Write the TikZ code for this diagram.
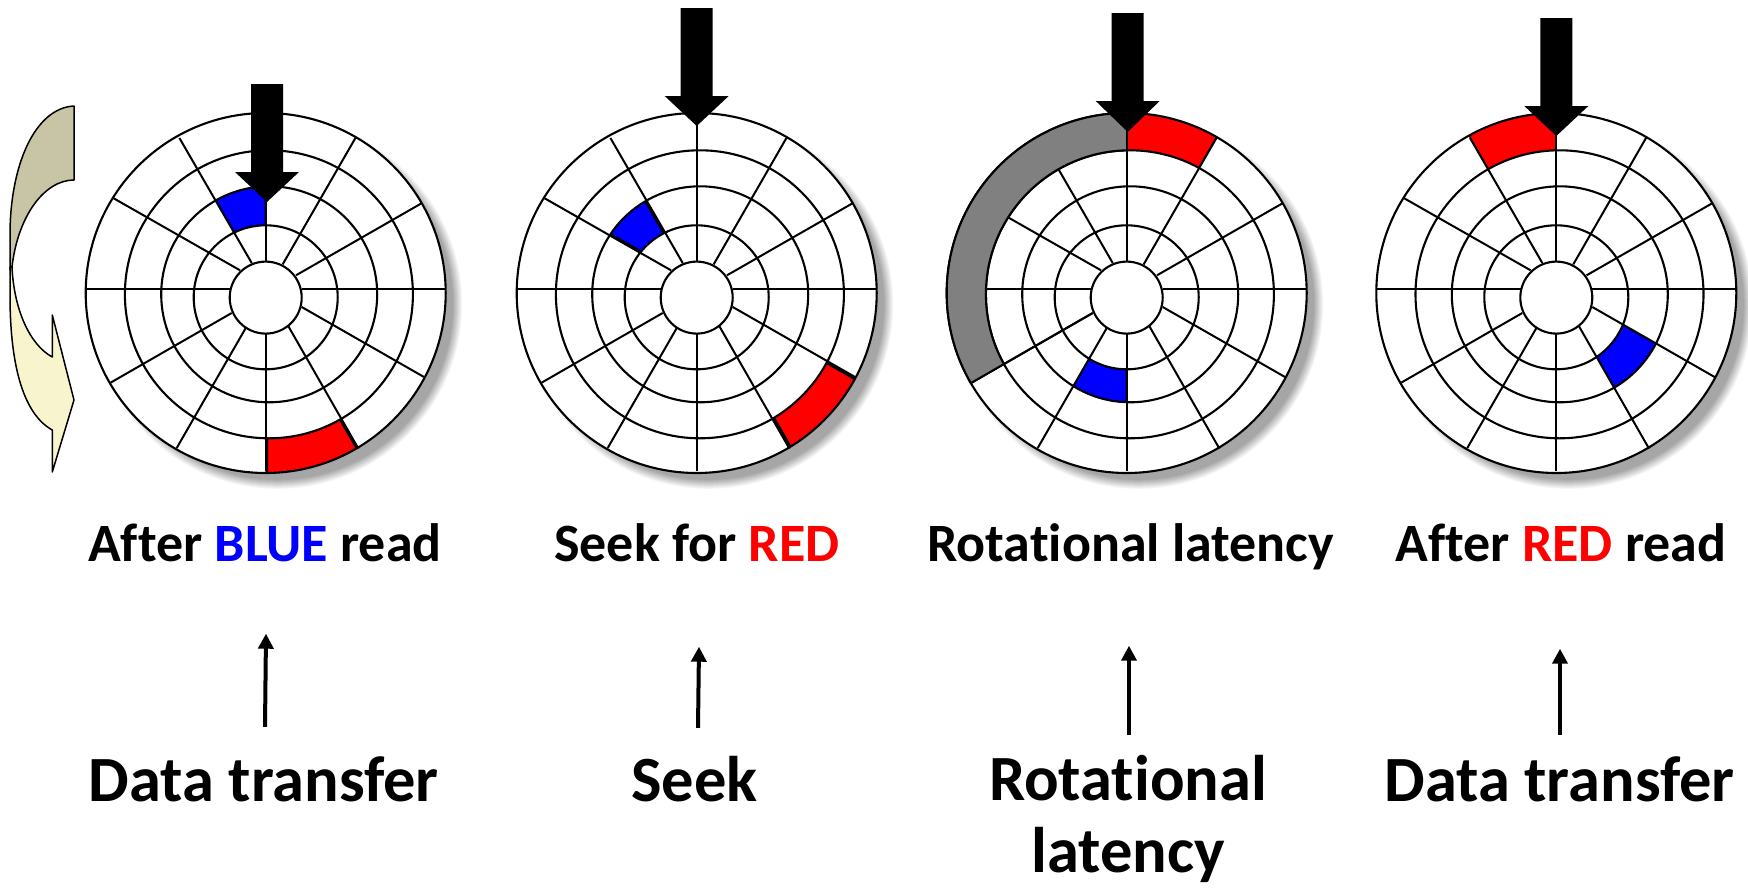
\documentclass[tikz,border=0pt]{standalone}
\usepackage{fontspec}
\setmainfont{Carlito}[Ligatures=NoCommon]
\usetikzlibrary{calc,arrows.meta}
\definecolor{secred}{RGB}{255,0,0}
\definecolor{secblue}{RGB}{0,0,255}
\definecolor{secgray}{RGB}{128,128,128}
\definecolor{foldtan}{RGB}{200,196,166}
\definecolor{foldcream}{RGB}{247,244,206}
\tikzset{
  ring/.style={draw=black,line width=2.1pt},
  spoke/.style={draw=black,line width=2pt},
  caption/.style={font=\fontsize{54}{60}\bfseries\selectfont,inner sep=0pt,anchor=base,text height=34pt,text depth=10pt},
  tag/.style={font=\fontsize{64.5}{78}\bfseries\selectfont,inner sep=0pt,anchor=base,text height=42pt,text depth=12pt},
  tagtwo/.style={font=\fontsize{64.5}{72}\bfseries\selectfont,inner sep=0pt,anchor=north,align=center},
  pointer/.style={draw=black,line width=4pt,-{Triangle[length=15pt,width=15pt]}},
  fold/.style={draw=black,line width=1.5pt,line join=round}
}
\newcommand{\dsksector}[9]{% colour, heavy width, xO, rO, yO, xI, rI, yI, polygon
  \begin{scope}
    \clip #9 -- cycle;
    \fill[#1] (#3,#5) circle[radius=#4];
    \clip (#3,#5) circle[radius=#4];
    \draw[line width=#2] #9 -- cycle;
    \fill[white] (#6,#8) circle[radius=#7];
  \end{scope}}
\newcommand{\spokepts}{%
  \coordinate (Ai) at (17,-25);      \coordinate (Ao) at (90.3,-152.3);
  \coordinate (Bi) at (30.3,-14);    \coordinate (Bo) at (155.3,-85.7);
  \coordinate (Ci) at (36,0);        \coordinate (Co) at (179.7,0);
  \coordinate (Di) at (36,17.7);     \coordinate (Do) at (158.3,87.7);
  \coordinate (Ei) at (22.7,37);     \coordinate (Eo) at (92.7,159.3);
  \coordinate (Fi) at (0,44.3);      \coordinate (Fo) at (0,181.7);
  \coordinate (Gi) at (-19.7,38.3);  \coordinate (Go) at (-89,158.7);
  \coordinate (Hi) at (-34,23.7);    \coordinate (Ho) at (-155,93.3);
  \coordinate (Ii) at (-35.7,0);     \coordinate (Io) at (-180.7,0);
  \coordinate (Ji) at (-25.7,-19);   \coordinate (Jo) at (-153.3,-91.7);
  \coordinate (Ki) at (-14,-26.3);   \coordinate (Ko) at (-86.3,-151.3);
  \coordinate (Li) at (0,-27.7);     \coordinate (Lo) at (0,-175);
  \foreach \n in {A,B,C,D,E,F,G,H,I,J,K,L}{\coordinate (\n x) at ($(\n i)!1.12!(\n o)$);}
}
\newcommand{\dskbase}{%
  \foreach \i in {0,...,10}{
    \pgfmathsetmacro{\rr}{185.5-\i}
    \pgfmathsetmacro{\pp}{3.5*\i}
    \fill[black!\pp] (12,15) circle[radius=\rr];
  }
  \fill[white] (0,3.7) circle[radius=180];
}
\newcommand{\dsklines}{%
  \draw[ring] (0,3.7) circle[radius=180];
  \draw[ring] (3.2,5) circle[radius=144];
  \draw[ring] (3.5,5) circle[radius=108];
  \draw[ring] (0,8) circle[radius=72];
  \foreach \n in {A,B,C,D,E,F,G,H,I,J,K,L}{\draw[spoke] (\n i) -- (\n o);}
  \filldraw[ring,fill=white] (0,8.3) circle[radius=36];
}
\newcommand{\headarrow}[4]{% x, top, base, tip
  \fill[black] (#1-16,#2) -- (#1+16,#2) -- (#1+16,#3) -- (#1+32,#3) -- (#1,#4) -- (#1-32,#3) -- (#1-16,#3) -- cycle;}
\begin{document}
\begin{tikzpicture}[x=1pt,y=-1pt]
\useasboundingbox (0,0) rectangle (1748,889);

% folded curved arrow
\filldraw[fold,fill=foldtan] (74,106) .. controls (35,108) and (10,165) .. (10,235) -- (10,270) -- (12,267) .. controls (18,215) and (45,180) .. (74,180) -- cycle;
\filldraw[fold,fill=foldcream] (12,267) .. controls (14,310) and (30,345) .. (52.3,357) -- (52.3,315) -- (74,400) -- (52.3,472) -- (52.3,430) .. controls (25,415) and (10,370) .. (10,295) -- (10,267) -- cycle;

% disk 1
\begin{scope}[shift={(265.7,289.3)}]
  \spokepts\dskbase
  \dsksector{secblue}{2pt}{3.5}{108}{5}{0}{72}{8}{(Li) -- (Lx) -- (Kx) -- (Ki)}
  \dsksector{secred}{5pt}{0}{180}{3.7}{3.2}{144}{5}{(Fi) -- (Fx) -- (Ex) -- (Ei)}
  \dsklines
\end{scope}
\headarrow{267}{84}{172}{202}

% disk 2
\begin{scope}[shift={(696.7,289.3)}]
  \spokepts\dskbase
  \dsksector{secblue}{5pt}{3.5}{108}{5}{0}{72}{8}{(Ki) -- (Kx) -- (Jx) -- (Ji)}
  \dsksector{secred}{6pt}{0}{180}{3.7}{3.2}{144}{5}{(Ei) -- (Ex) -- (Dx) -- (Di)}
  \dsklines
\end{scope}
\headarrow{696.7}{8}{96}{126}

% disk 3
\begin{scope}[shift={(1126.7,289.3)}]
  \spokepts\dskbase
  \dsksector{secred}{2pt}{0}{180}{3.7}{3.2}{144}{5}{(Li) -- (Lx) -- (Ax) -- (Ai)}
  \dsksector{secblue}{2pt}{3.5}{108}{5}{0}{72}{8}{(Fi) -- (Fx) -- (Gx) -- (Gi)}
  \dsklines
  % the grey band covers the spokes that run through it
  \begin{scope}
    \clip (Hi) -- (Hx) -- (Ix) -- (Jx) -- (Kx) -- (Lx) -- (Li) -- cycle;
    \fill[secgray,even odd rule] (0,3.7) circle[radius=180] (3.2,5) circle[radius=144];
    \draw[ring] (0,3.7) circle[radius=180];
    \draw[ring] (3.2,5) circle[radius=144];
  \end{scope}
  \draw[spoke] (Hi) -- (Ho);
  \draw[spoke] (Li) -- (Lo);
\end{scope}
\headarrow{1127.7}{13}{101}{132}

% disk 4
\begin{scope}[shift={(1556.3,289.3)}]
  \spokepts\dskbase
  \dsksector{secred}{2pt}{0}{180}{3.7}{3.2}{144}{5}{(Li) -- (Lx) -- (Kx) -- (Ki)}
  \dsksector{secblue}{2pt}{3.5}{108}{5}{0}{72}{8}{(Di) -- (Dx) -- (Ex) -- (Ei)}
  \dsklines
\end{scope}
\headarrow{1556.3}{18}{106}{136}

% captions
\node[caption] (cap1) at (265,561.5) {After \textcolor{secblue}{BLUE} read};
\node[caption] (cap2) at (697,561.5) {Seek for \textcolor{secred}{RED}};
\node[caption] (cap3) at (1130.5,561.5) {Rotational latency};
\node[caption] (cap4) at (1561,561.5) {After \textcolor{secred}{RED} read};

% tags
\node[tag] (tag1) at (263.7,801) {Data transfer};
\node[tag] (tag2) at (694.5,801) {Seek};
\node[tagtwo] (tag3) at (1128,755) {Rotational\\latency};
\node[tag] (tag4) at (1559.6,801) {Data transfer};

% pointers
\draw[pointer] ([xshift=1.3pt,yshift=32pt]tag1.north) -- ([xshift=1pt,yshift=-62pt]cap1.south);
\draw[pointer] ([xshift=3.5pt,yshift=31pt]tag2.north) -- ([xshift=2pt,yshift=-75pt]cap2.south);
\draw[pointer] ([xshift=1pt,yshift=20pt]tag3.north) -- ([xshift=-1.5pt,yshift=-74pt]cap3.south);
\draw[pointer] ([xshift=0.4pt,yshift=24pt]tag4.north) -- ([xshift=-1pt,yshift=-77pt]cap4.south);
\end{tikzpicture}
\end{document}
